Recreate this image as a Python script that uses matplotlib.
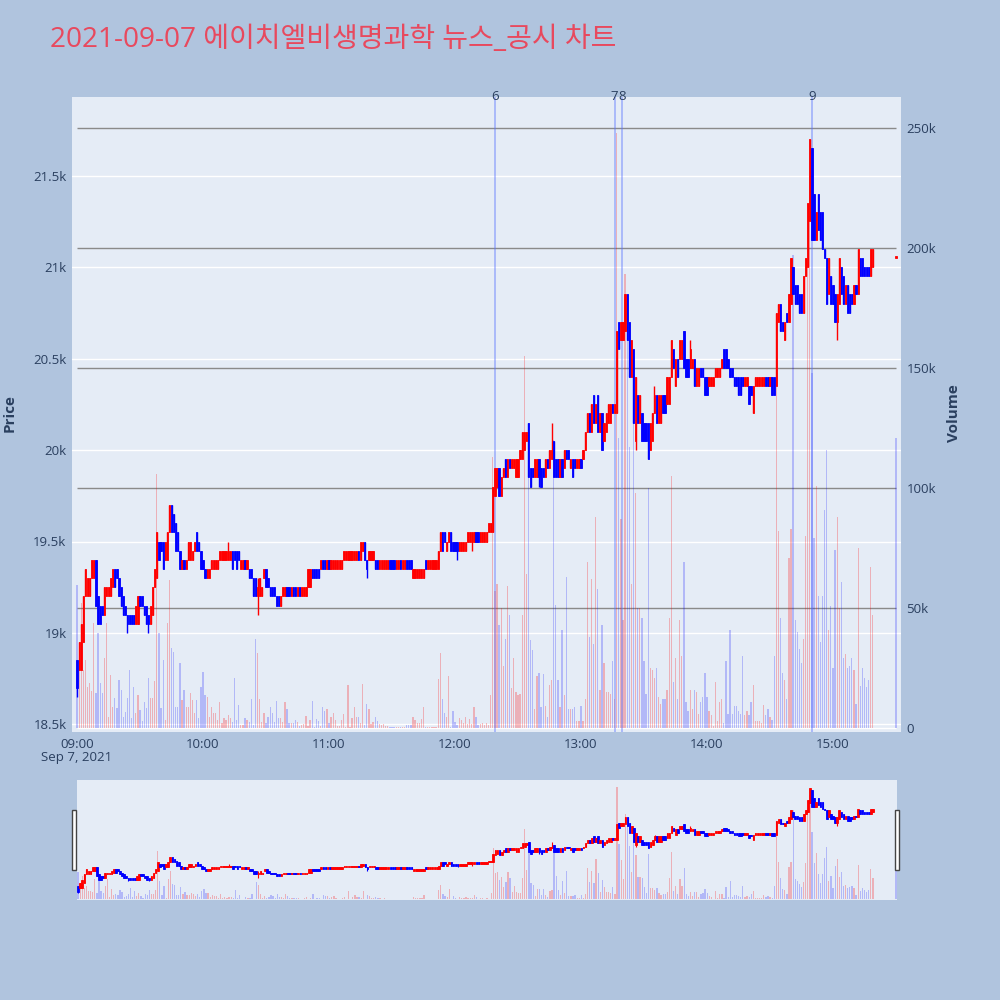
import numpy as np
import matplotlib
matplotlib.use("Agg")
import matplotlib.pyplot as plt
import matplotlib.transforms as mtransforms
from matplotlib.patches import Rectangle

plt.rcParams['font.family'] = ['Open Sans', 'Noto Sans CJK KR', 'DejaVu Sans']

# ---------------- data ----------------
title = "2021-09-07 에이치엘비생명과학 뉴스_공시 차트"
date_label = "Sep 7, 2021"

# one-minute candles from 09:00 (index 0) to 15:19 (index 379)
opens = [
    18850,18800,18800,18950,19200,19200,19200,19300,19300,19400,
    19200,19150,19150,19100,19200,19200,19200,19250,19350,19350,
    19300,19250,19200,19150,19100,19100,19100,19100,19050,19050,
    19200,19200,19150,19150,19100,19050,19100,19250,19300,19500,
    19500,19500,19400,19400,19550,19700,19650,19600,19550,19450,
    19350,19400,19350,19400,19400,19400,19450,19550,19500,19450,
    19400,19350,19300,19300,19350,19350,19350,19350,19400,19400,
    19400,19400,19400,19400,19450,19450,19450,19450,19350,19350,
    19400,19350,19350,19350,19300,19300,19200,19200,19200,19300,
    19350,19300,19250,19250,19250,19200,19200,19150,19200,19200,
    19250,19250,19200,19250,19250,19200,19250,19200,19200,19200,
    19250,19250,19350,19350,19350,19350,19350,19400,19400,19350,
    19400,19350,19350,19350,19350,19350,19350,19400,19400,19400,
    19400,19400,19400,19400,19450,19400,19450,19500,19400,19400,
    19400,19400,19400,19400,19350,19350,19350,19350,19350,19400,
    19400,19400,19350,19350,19400,19350,19350,19400,19400,19400,
    19300,19300,19300,19300,19300,19300,19400,19350,19350,19350,
    19350,19350,19350,19450,19550,19550,19450,19500,19550,19500,
    19500,19500,19450,19450,19450,19450,19500,19500,19500,19500,
    19550,19550,19500,19500,19500,19500,19550,19550,19550,19750,
    19800,19900,19750,19850,19950,19850,19950,19900,19900,19850,
    19850,19950,19950,20000,20050,20150,19900,19900,19850,19850,
    19950,19900,19900,19850,19950,19900,19950,20050,19950,19950,
    19850,19950,19900,20000,20000,19900,19950,19950,19900,19900,
    19950,19950,20000,20100,20200,20100,20300,20150,20300,20100,
    20200,20050,20100,20150,20150,20250,20200,20200,20700,20600,
    20600,20650,20850,20700,20400,20550,20050,20300,20150,20200,
    20150,20150,20150,20000,20050,20200,20300,20150,20150,20300,
    20300,20250,20250,20400,20550,20350,20500,20500,20500,20650,
    20500,20500,20450,20450,20500,20350,20350,20450,20450,20400,
    20400,20350,20350,20350,20400,20400,20400,20450,20550,20550,
    20500,20450,20450,20400,20400,20400,20400,20400,20350,20350,
    20350,20350,20200,20350,20350,20350,20350,20350,20400,20400,
    20350,20400,20400,20350,20700,20800,20700,20600,20750,20700,
    20800,21000,20900,20900,20850,20850,20750,20950,21000,21250,
    21650,21400,21150,21400,21300,21300,21100,21050,20850,20950,
    20900,20850,20700,20800,21000,20950,20800,20900,20850,20850,
    20800,20900,20850,21050,21050,21000,21000,21000,20950,21000,
]
closes = [
    18700,18950,19050,19200,19350,19300,19300,19400,19400,19150,
    19050,19050,19100,19250,19250,19250,19300,19350,19250,19300,
    19200,19150,19100,19100,19050,19050,19050,19050,19150,19200,
    19150,19150,19100,19050,19050,19150,19250,19350,19550,19400,
    19450,19350,19500,19550,19700,19550,19550,19450,19450,19350,
    19400,19350,19400,19500,19500,19450,19500,19450,19450,19350,
    19350,19300,19350,19350,19400,19400,19400,19400,19450,19450,
    19450,19450,19450,19450,19350,19400,19350,19400,19400,19400,
    19350,19400,19300,19300,19200,19200,19250,19300,19250,19350,
    19250,19250,19200,19200,19200,19150,19150,19200,19250,19250,
    19200,19200,19250,19200,19200,19250,19200,19250,19250,19250,
    19350,19350,19300,19300,19300,19300,19400,19350,19350,19400,
    19350,19400,19400,19400,19400,19400,19400,19450,19450,19450,
    19450,19450,19450,19450,19400,19500,19500,19400,19350,19450,
    19450,19450,19350,19350,19400,19400,19400,19400,19400,19350,
    19350,19350,19400,19400,19350,19400,19400,19350,19350,19350,
    19350,19350,19350,19350,19350,19350,19350,19400,19400,19400,
    19400,19400,19450,19550,19450,19500,19500,19550,19450,19450,
    19450,19450,19500,19500,19500,19500,19550,19550,19550,19550,
    19500,19500,19550,19550,19550,19550,19600,19600,19800,19900,
    19900,19750,19850,19900,19850,19950,19900,19950,19950,19950,
    19950,20000,20100,20100,20100,19850,19800,19850,19950,19950,
    19850,19800,19850,19950,19900,20000,20000,19850,19850,19850,
    19950,19850,20000,19950,19950,19950,19850,19900,19950,19950,
    19900,20000,20100,20200,20100,20250,20150,20250,20100,20200,
    20000,20150,20200,20250,20250,20200,20250,20650,20550,20700,
    20700,20850,20600,20400,20600,20150,20400,20150,20300,20050,
    20050,20050,19950,20150,20200,20300,20150,20300,20300,20200,
    20200,20400,20400,20600,20450,20500,20400,20600,20600,20450,
    20400,20400,20550,20500,20350,20450,20450,20400,20400,20300,
    20300,20400,20400,20400,20450,20450,20450,20500,20450,20450,
    20450,20400,20400,20350,20350,20300,20300,20350,20400,20400,
    20250,20300,20350,20400,20400,20400,20400,20400,20350,20350,
    20400,20300,20300,20750,20800,20650,20650,20700,20700,20850,
    21050,20850,20800,20800,20750,20750,20950,21050,21350,21700,
    21150,21150,21300,21200,21150,21100,21050,20800,21050,20800,
    20800,20700,20850,21050,20850,20800,20900,20750,20750,20800,
    20900,20850,21100,20950,20950,20950,20950,20950,21100,21100,
]
# volume per minute, thousands of shares
volumes_k = [
    59.6,36,52,24.2,28.3,17.2,18.6,15.3,43.6,14.4,
    39.6,18.6,14.4,29,43.6,4.7,22,8.9,12.5,8.3,
    20,15.8,4.7,6.8,12.5,24.2,4,17.2,6.1,13.8,
    7.5,2.8,11,8.3,20.7,12.5,12.5,19.4,106,39.6,
    8.3,28.3,3.3,43.6,61.7,33.2,31.8,8.9,8.9,27,
    11.7,15.8,8.9,8.9,14.4,11.7,6.1,11.7,4,17.2,
    23.5,13.8,13,4.7,8.9,6.1,6.1,
    3.3,11,2,4,3.3,5.4,4,2.6,21,3.3,
    9.6,1.3,1.3,4,3.3,2.6,11.9,1.3,37.2,31.1,
    12,2.6,6.4,2.2,4.7,8.9,6.1,2.6,11.4,4,
    4,2.6,11,7.8,2,2,2,3.3,2.6,0.8,
    1.3,1.7,5,0.8,3.3,11.4,0.6,3.6,2.9,0.8,
    8.9,7.2,7.8,2.2,4.7,6.4,3.3,0.8,0.8,3.3,
    5.7,0.6,17.9,0.6,4,8.9,
    4.7,4.7,2,18.2,1.3,9.9,7.8,1.7,2.6,4.5,
    3.1,1.7,1.3,1.7,0.8,0.8,0.6,0.6,0.6,0.3,
    0.6,0.6,0.6,0.6,1.3,1.3,1.3,4.5,3.3,2.2,
    2,3.6,8.6,0.6,0.6,0.6,0.6,0.6,0.6,20.3,
    31.1,11.9,6.1,4.7,21.7,0.6,7.2,2.6,1.3,4,
    3.3,2.2,4.5,1.7,3.6,1.7,8.9,4.7,1.3,1.7,
    2.2,1.3,2.2,1.3,13.8,
    113,57,60,43,50,26,37,59,47,16.5,29,
    15,13.6,14.3,47,155,64,127,36.7,32.5,7.9,
    21.7,22.8,8.9,22.5,9.2,4.7,17.9,20,120,51.3,
    20,8.6,41,13.6,63,7.9,7.9,7.9,8.9,
    3,3,9,3,12,69,38,62,35,88,
    58,16,43,27,15,15,14,28,12,248,
    121,87,45,189,164,117,60,149,98,50,
    50,46,28,14,100,25,24,21,25,13,
    10,12,12,16,46,105,19,29,12,45,
    30,69,11,7,16,8,16,15,6,11,
    13,23,13,7,5.5,1,19,3,11,12,
    2,28,6,41,6,9,9,7,6,30,
    5.5,7,5.5,11,18,3,3,3,2,9.5,
    5.5,8,
    4.5,3.5,30,155,82,46,23,20,12,71,
    83,197,45,40,33,27,37,80,195,230,
    148,79,101,55,36,55,91,116,41,51,
    25,74,88,50,61,29,31,25,26,29,
    24,10,75,17.5,25,21,17,20,67,47,
]
wick_high = {72: 19500, 86: 19300, 226: 20150, 246: 20300, 275: 20350, 292: 20600, 353: 21400}
wick_low = {0: 18650, 24: 19000, 34: 19000, 86: 19100, 138: 19300, 181: 19400,
            188: 19450, 220: 19800, 266: 20000, 362: 20600}

# closing auction print at 15:30
auction_time = "15:30"
auction_price = 21050
auction_volume_k = 121

session_start = "09:00"
news_times = ["12:19", "13:16", "13:19:30", "14:50"]
news_labels = ["6", "7", "8", "9"]
x_tick_labels = ["09:00", "10:00", "11:00", "12:00", "13:00", "14:00", "15:00"]
price_ticks = [18500, 19000, 19500, 20000, 20500, 21000, 21500]
price_tick_labels = ["18.5k", "19k", "19.5k", "20k", "20.5k", "21k", "21.5k"]
vol_ticks = [0, 50000, 100000, 150000, 200000, 250000]
vol_tick_labels = ["0", "50k", "100k", "150k", "200k", "250k"]


def to_min(t):
    parts = [int(p) for p in t.split(":")]
    while len(parts) < 3:
        parts.append(0)
    h, m, s = parts
    h0, m0 = [int(p) for p in session_start.split(":")]
    return (h * 60 + m + s / 60.0) - (h0 * 60 + m0)


# ---------------- assemble ----------------
n = len(opens)
x = np.array(list(range(n)) + [to_min(auction_time)], float)
o = np.array(opens + [auction_price], float)
c = np.array(closes + [auction_price], float)
v = np.array(volumes_k + [auction_volume_k], float) * 1000
hi = np.maximum(o, c)
lo = np.minimum(o, c)
for k, val in wick_high.items():
    hi[k] = max(hi[k], val)
for k, val in wick_low.items():
    lo[k] = min(lo[k], val)

RED = "#FF0000"
BLUE = "#0000FF"
cand_col = [RED if cc >= oo else BLUE for oo, cc in zip(o, c)]
vol_col = []
for i in range(len(o)):
    if c[i] > o[i]:
        vol_col.append((1, 0, 0, 0.25))
    elif c[i] < o[i]:
        vol_col.append((0, 0, 1, 0.22))
    else:
        prev = c[i - 1] if i > 0 else c[i]
        vol_col.append((1, 0, 0, 0.25) if c[i] >= prev else (0, 0, 1, 0.22))

TXT = "#2a3f5f"
BG = "#B0C4DE"
PLOT_BG = "#E5ECF6"
P_LIM = (18459, 21929)
V_LIM = (-1667, 262900)
X_LIM = (-2.4, 392.4)

fig = plt.figure(figsize=(10, 10), dpi=100, facecolor=BG)

# volume axis (drawn behind)
axv = fig.add_axes([0.072, 0.268, 0.829, 0.635])
axv.set_facecolor(PLOT_BG)
ax = axv.twinx()
ax.yaxis.tick_left()
ax.yaxis.set_label_position("left")
axv.yaxis.tick_right()
axv.yaxis.set_label_position("right")
ax.set_zorder(axv.get_zorder() + 1)
ax.patch.set_visible(False)

for a in (ax, axv):
    a.set_xlim(*X_LIM)
    for s in a.spines.values():
        s.set_visible(False)
ax.set_ylim(*P_LIM)
axv.set_ylim(*V_LIM)

# price grid (white)
for p in price_ticks:
    axv.axhline((p - P_LIM[0]) / (P_LIM[1] - P_LIM[0]) * (V_LIM[1] - V_LIM[0]) + V_LIM[0],
                color="white", lw=1.0, zorder=0)
# volume grid (gray)
axv.hlines(vol_ticks[1:], x[0], x[-1], color="#8a8a8a", lw=1.0, zorder=1)
axv.hlines([0], x[0], x[-1], color="white", lw=1.0, zorder=1)

axv.bar(x, v, width=0.6, color=vol_col, linewidth=0, zorder=2)

# news vertical lines
for t, lab in zip(news_times, news_labels):
    xm = to_min(t)
    axv.axvline(xm, color=(0.35, 0.45, 1.0, 0.45), lw=1.3, zorder=3)
    ax.text(xm, 1.0, lab, transform=mtransforms.blended_transform_factory(ax.transData, ax.transAxes),
            ha="center", va="center", fontsize=9.5, color=TXT)

# candles
body_h = np.abs(c - o)
body_h = np.where(body_h == 0, 8, body_h)
ax.vlines(x, lo, hi, colors=cand_col, lw=1.0, zorder=4)
ax.bar(x, body_h, bottom=np.minimum(o, c), width=0.6, color=cand_col,
       edgecolor=cand_col, linewidth=0.6, zorder=5)

# ticks
ax.set_yticks(price_ticks)
ax.set_yticklabels(price_tick_labels)
axv.set_yticks(vol_ticks)
axv.set_yticklabels(vol_tick_labels)
ax.set_xticks([to_min(t) for t in x_tick_labels])
ax.set_xticklabels(x_tick_labels)
for a in (ax, axv):
    a.tick_params(length=0, labelsize=9.5, labelcolor=TXT, pad=4)
ax.tick_params(axis="x", pad=5, labelbottom=True)
axv.tick_params(axis="x", labelbottom=True)

fig.text(0.077, 1 - 0.758, date_label, ha="center", va="center", fontsize=9.5, color=TXT)
fig.text(0.010, 1 - 0.413, "Price", rotation=90, ha="center", va="center",
         fontsize=11, color=TXT, fontweight="bold")
fig.text(0.954, 1 - 0.413, "Volume", rotation=90, ha="center", va="center",
         fontsize=11, color=TXT, fontweight="bold")

fig.text(0.050, 1 - 0.040, title, ha="left", va="center", fontsize=20.2, color="#E8495E")

# ---------------- range slider ----------------
sv = fig.add_axes([0.077, 0.100, 0.820, 0.120])
sv.set_facecolor(PLOT_BG)
sp = sv.twinx()
sp.patch.set_visible(False)
for a in (sv, sp):
    a.set_xlim(x[0] - 0.5, x[-1] + 0.5)
    a.set_xticks([])
    a.set_yticks([])
    for s in a.spines.values():
        s.set_visible(False)
sv.set_ylim(*V_LIM)
sp.set_ylim(*P_LIM)
sv.bar(x, v, width=0.6, color=vol_col, linewidth=0)
sp.vlines(x, lo, hi, colors=cand_col, lw=0.8)
sp.bar(x, np.where(np.abs(c - o) == 0, 20, np.abs(c - o)), bottom=np.minimum(o, c),
       width=0.8, color=cand_col, edgecolor=cand_col, linewidth=0.6)

for hx in (0.0735, 0.8965):
    fig.patches.append(Rectangle((hx - 0.002, 0.130), 0.004, 0.060, transform=fig.transFigure,
                                 facecolor="white", edgecolor="#444444", lw=1.0))

fig.savefig("out.png", dpi=100, facecolor=BG)
